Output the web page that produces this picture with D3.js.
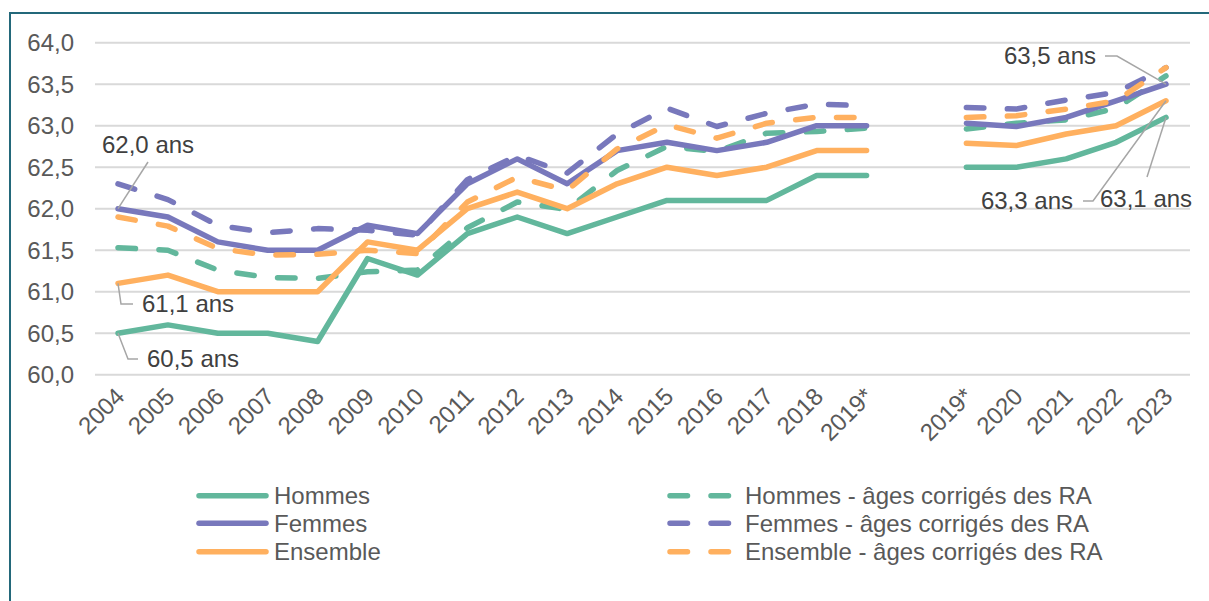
<!DOCTYPE html>
<html>
<head>
<meta charset="utf-8">
<script src="https://cdn.jsdelivr.net/npm/d3@7"></script>
<style>
  body { margin: 0; background: #ffffff; }
  svg { display: block; font-family: "Liberation Sans", Arial, sans-serif; }
</style>
</head>
<body>
<svg id="chart" width="1209" height="601"></svg>
<script>
// Categories: two blocks separated by an empty slot (2019* appears twice).
const years = ["2004", "2005", "2006", "2007", "2008", "2009", "2010", "2011", "2012", "2013",
  "2014", "2015", "2016", "2017", "2018", "2019*", "", "2019*", "2020", "2021", "2022", "2023"];

const hommes = [60.5, 60.6, 60.5, 60.5, 60.4, 61.4, 61.2, 61.7, 61.9, 61.7, 61.9, 62.1, 62.1, 62.1, 62.4, 62.4,
  null, 62.5, 62.5, 62.6, 62.8, 63.1];
const femmes = [62.0, 61.9, 61.6, 61.5, 61.5, 61.8, 61.7, 62.3, 62.6, 62.3, 62.7, 62.8, 62.7, 62.8, 63.0, 63.0,
  null, 63.03, 62.99, 63.1, 63.3, 63.5];
const ensemble = [61.1, 61.2, 61.0, 61.0, 61.0, 61.6, 61.5, 62.0, 62.2, 62.0, 62.3, 62.5, 62.4, 62.5, 62.7, 62.7,
  null, 62.79, 62.76, 62.9, 63.0, 63.3];
const hommesRA = [61.53, 61.5, 61.26, 61.17, 61.16, 61.24, 61.26, 61.77, 62.08, 61.99, 62.46, 62.75, 62.69, 62.91, 62.93, 62.97,
  null, 62.96, 63.03, 63.07, 63.21, 63.6];
const femmesRA = [62.3, 62.11, 61.8, 61.71, 61.76, 61.74, 61.68, 62.35, 62.64, 62.43, 62.9, 63.21, 62.99, 63.15, 63.26, 63.24,
  null, 63.22, 63.2, 63.31, 63.4, 63.7];
const ensembleRA = [61.9, 61.79, 61.52, 61.44, 61.45, 61.5, 61.46, 62.08, 62.38, 62.22, 62.72, 63.01, 62.85, 63.03, 63.1, 63.1,
  null, 63.1, 63.12, 63.2, 63.3, 63.7];

const yTicks = [60.0, 60.5, 61.0, 61.5, 62.0, 62.5, 63.0, 63.5, 64.0];

const green = "#62b79c", purple = "#7878bc", orange = "#ffb05f";

// Series in the drawing order of the spreadsheet (later ones on top).
const series = [
  { name: "Hommes", values: hommes, color: green, dashed: false },
  { name: "Hommes - âges corrigés des RA", values: hommesRA, color: green, dashed: true },
  { name: "Femmes", values: femmes, color: purple, dashed: false },
  { name: "Femmes - âges corrigés des RA", values: femmesRA, color: purple, dashed: true },
  { name: "Ensemble", values: ensemble, color: orange, dashed: false },
  { name: "Ensemble - âges corrigés des RA", values: ensembleRA, color: orange, dashed: true }
];

const svg = d3.select("#chart");
const fontSize = 24;
const dash = "17.5 23.5";
const comma = v => d3.format(".1f")(v).replace(".", ",");

// Frame around the chart.
svg.append("rect")
  .attr("x", 10).attr("y", 13)
  .attr("width", 1220).attr("height", 620)
  .attr("fill", "#ffffff")
  .attr("stroke", "#23687a")
  .attr("stroke-width", 2);

const x = d3.scalePoint()
  .domain(d3.range(years.length))
  .range([118, 1166]);

const y = d3.scaleLinear()
  .domain([60, 64])
  .range([374.7, 42.7]);

// Horizontal gridlines.
svg.append("g")
  .selectAll("line")
  .data(yTicks)
  .join("line")
  .attr("x1", 95).attr("x2", 1190)
  .attr("y1", d => y(d)).attr("y2", d => y(d))
  .attr("stroke", "#d9d9d9")
  .attr("stroke-width", 2);

// Y tick labels.
svg.append("g")
  .selectAll("text")
  .data(yTicks)
  .join("text")
  .attr("x", 74)
  .attr("y", d => y(d))
  .attr("dy", "0.35em")
  .attr("text-anchor", "end")
  .attr("font-size", fontSize)
  .attr("fill", "#595959")
  .text(d => comma(d));

// X tick labels, rotated.
svg.append("g")
  .selectAll("text")
  .data(years)
  .join("text")
  .attr("transform", (d, i) => `translate(${x(i) + 2},${392}) rotate(-45)`)
  .attr("dy", "0.35em")
  .attr("text-anchor", "end")
  .attr("font-size", fontSize)
  .attr("fill", "#595959")
  .text(d => d);

// The lines.
const line = d3.line()
  .defined(d => d != null)
  .x((d, i) => x(i))
  .y(d => y(d));

svg.append("g")
  .selectAll("path")
  .data(series)
  .join("path")
  .attr("d", d => line(d.values))
  .attr("fill", "none")
  .attr("stroke", d => d.color)
  .attr("stroke-width", 5.5)
  .attr("stroke-linejoin", "round")
  .attr("stroke-linecap", "round")
  .attr("stroke-dasharray", d => d.dashed ? dash : null);

// Data labels with leader lines.
const last = years.length - 1;
const notes = [
  { v: femmes[0], i: 0, tx: 102, ty: 145, anchor: "start", path: [[148, 162]] },
  { v: ensemble[0], i: 0, tx: 142, ty: 304, anchor: "start", path: [[121, 304], [133, 304]] },
  { v: hommes[0], i: 0, tx: 147, ty: 359, anchor: "start", path: [[128, 359], [138, 359]] },
  { v: femmes[last], i: last, tx: 1096, ty: 56, anchor: "end", path: [[1117, 56], [1105, 56]] },
  { v: ensemble[last], i: last, tx: 1073, ty: 201, anchor: "end", path: [[1093, 201], [1083, 201]] },
  { v: hommes[last], i: last, tx: 1100, ty: 199, anchor: "start", path: [[1147, 177]] }
];

notes.forEach(n => {
  const pts = [[x(n.i), y(n.v)]].concat(n.path);
  svg.append("path")
    .attr("d", d3.line()(pts))
    .attr("fill", "none")
    .attr("stroke", "#a6a6a6")
    .attr("stroke-width", 1.5);
  svg.append("text")
    .attr("x", n.tx)
    .attr("y", n.ty)
    .attr("dy", "0.35em")
    .attr("text-anchor", n.anchor)
    .attr("font-size", fontSize)
    .attr("fill", "#404040")
    .text(comma(n.v) + " ans");
});

// Legend: solid series on the left, corrected series on the right.
const legendRows = [495.7, 523.3, 551.7];
const legend = svg.append("g");
series.forEach((s, k) => {
  const row = legendRows[Math.floor(k / 2)];
  if (!s.dashed) {
    legend.append("line")
      .attr("x1", 199).attr("x2", 266)
      .attr("y1", row).attr("y2", row)
      .attr("stroke", s.color).attr("stroke-width", 5.5)
      .attr("stroke-linecap", "round");
    legend.append("text")
      .attr("x", 274).attr("y", row).attr("dy", "0.35em")
      .attr("font-size", fontSize).attr("fill", "#595959")
      .text(s.name);
  } else {
    legend.append("line")
      .attr("x1", 670).attr("x2", 730)
      .attr("y1", row).attr("y2", row)
      .attr("stroke", s.color).attr("stroke-width", 5.5)
      .attr("stroke-linecap", "round")
      .attr("stroke-dasharray", dash);
    legend.append("text")
      .attr("x", 745).attr("y", row).attr("dy", "0.35em")
      .attr("font-size", fontSize).attr("fill", "#595959")
      .text(s.name);
  }
});
</script>
</body>
</html>
